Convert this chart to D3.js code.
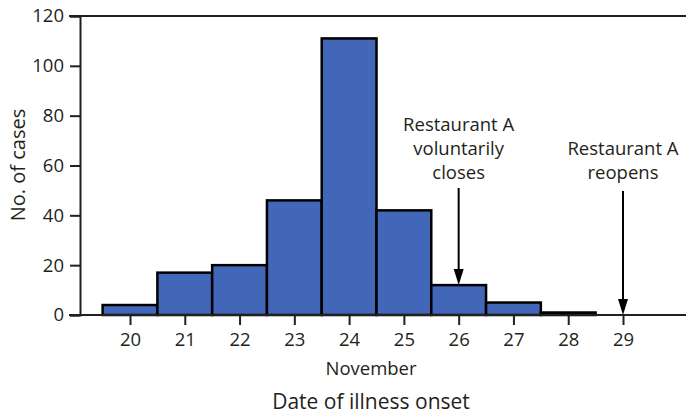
<!DOCTYPE html>
<html>
<head>
<meta charset="utf-8">
<script src="https://cdn.jsdelivr.net/npm/d3@7"></script>
<style>
  html, body { margin: 0; padding: 0; background: #fff; }
  svg { display: block; }
  text { font-family: "Open Sans", "Noto Sans", sans-serif; fill: #231f20; }
</style>
</head>
<body>
<svg id="chart" width="686" height="414"></svg>
<script>
// ---- data ----
const days = [20, 21, 22, 23, 24, 25, 26, 27, 28];
const cases = [4, 17, 20, 46, 111, 42, 12, 5, 1];
const xTicks = [20, 21, 22, 23, 24, 25, 26, 27, 28, 29];
const yTicks = [0, 20, 40, 60, 80, 100, 120];
const annotationDays = [26, 29];
const annotationLabels = [["Restaurant A", "voluntarily", "closes"], ["Restaurant A", "reopens"]];
const yTitle = "No. of cases";
const xSubTitle = "November";
const xTitle = "Date of illness onset";

// ---- layout ----
const W = 686, H = 414;
const svg = d3.select("#chart");
const ink = "#231f20";
const fs = 18.5;

const x = d3.scaleLinear().domain([20, 29]).range([130, 623]);
const y = d3.scaleLinear().domain([0, 120]).range([315, 16]);
const bw = x(21) - x(20);

// bars
svg.append("g").selectAll("rect")
  .data(days.map((d, i) => ({ day: d, v: cases[i] })))
  .join("rect")
  .attr("x", d => x(d.day) - bw / 2)
  .attr("width", bw)
  .attr("y", d => y(d.v))
  .attr("height", d => y(0) - y(d.v))
  .attr("fill", "#4267b8")
  .attr("stroke", "#000")
  .attr("stroke-width", 2.5);

// frame lines
svg.append("line").attr("x1", 69).attr("x2", W).attr("y1", y(120)).attr("y2", y(120))
  .attr("stroke", ink).attr("stroke-width", 2);
svg.append("line").attr("x1", 69).attr("x2", W).attr("y1", y(0)).attr("y2", y(0))
  .attr("stroke", ink).attr("stroke-width", 2);

// y axis
const yAxis = svg.append("g").attr("transform", "translate(80,0)")
  .call(d3.axisLeft(y).tickValues(yTicks).tickSize(10).tickPadding(6).tickFormat(d3.format("d")));
yAxis.select(".domain").attr("stroke", ink).attr("stroke-width", 2);
yAxis.selectAll(".tick line").attr("stroke", ink).attr("stroke-width", 2);
yAxis.selectAll(".tick text").attr("font-size", fs).attr("font-family", "'Open Sans', sans-serif").attr("fill", ink);

// x axis
const xAxis = svg.append("g").attr("transform", `translate(0,${y(0)})`)
  .call(d3.axisBottom(x).tickValues(xTicks).tickSize(10).tickPadding(8).tickFormat(d3.format("d")));
xAxis.select(".domain").remove();
xAxis.selectAll(".tick line").attr("stroke", ink).attr("stroke-width", 2);
xAxis.selectAll(".tick text").attr("font-size", fs).attr("font-family", "'Open Sans', sans-serif").attr("fill", ink);

// titles
svg.append("text").attr("transform", "translate(25,165) rotate(-90)")
  .attr("text-anchor", "middle").attr("font-size", 20).text(yTitle);
svg.append("text").attr("x", 371).attr("y", 375)
  .attr("text-anchor", "middle").attr("font-size", fs).text(xSubTitle);
svg.append("text").attr("x", 371).attr("y", 409)
  .attr("text-anchor", "middle").attr("font-size", 21).text(xTitle);

// annotations
const arrowTop = [188, 191];
annotationDays.forEach((d, i) => {
  const idx = days.indexOf(d);
  const tipY = idx >= 0 ? y(cases[idx]) : y(0);
  const cx = x(d);
  svg.append("line").attr("x1", cx).attr("x2", cx)
    .attr("y1", arrowTop[i]).attr("y2", tipY - 10)
    .attr("stroke", "#000").attr("stroke-width", 2);
  svg.append("path")
    .attr("d", `M${cx - 5},${tipY - 16} L${cx + 5},${tipY - 16} L${cx},${tipY} Z`)
    .attr("fill", "#000");
  const lines = annotationLabels[i];
  const lastBase = 179;
  lines.forEach((t, j) => {
    svg.append("text").attr("x", cx).attr("y", lastBase - (lines.length - 1 - j) * 24)
      .attr("text-anchor", "middle").attr("font-size", fs).text(t);
  });
});
</script>
</body>
</html>
